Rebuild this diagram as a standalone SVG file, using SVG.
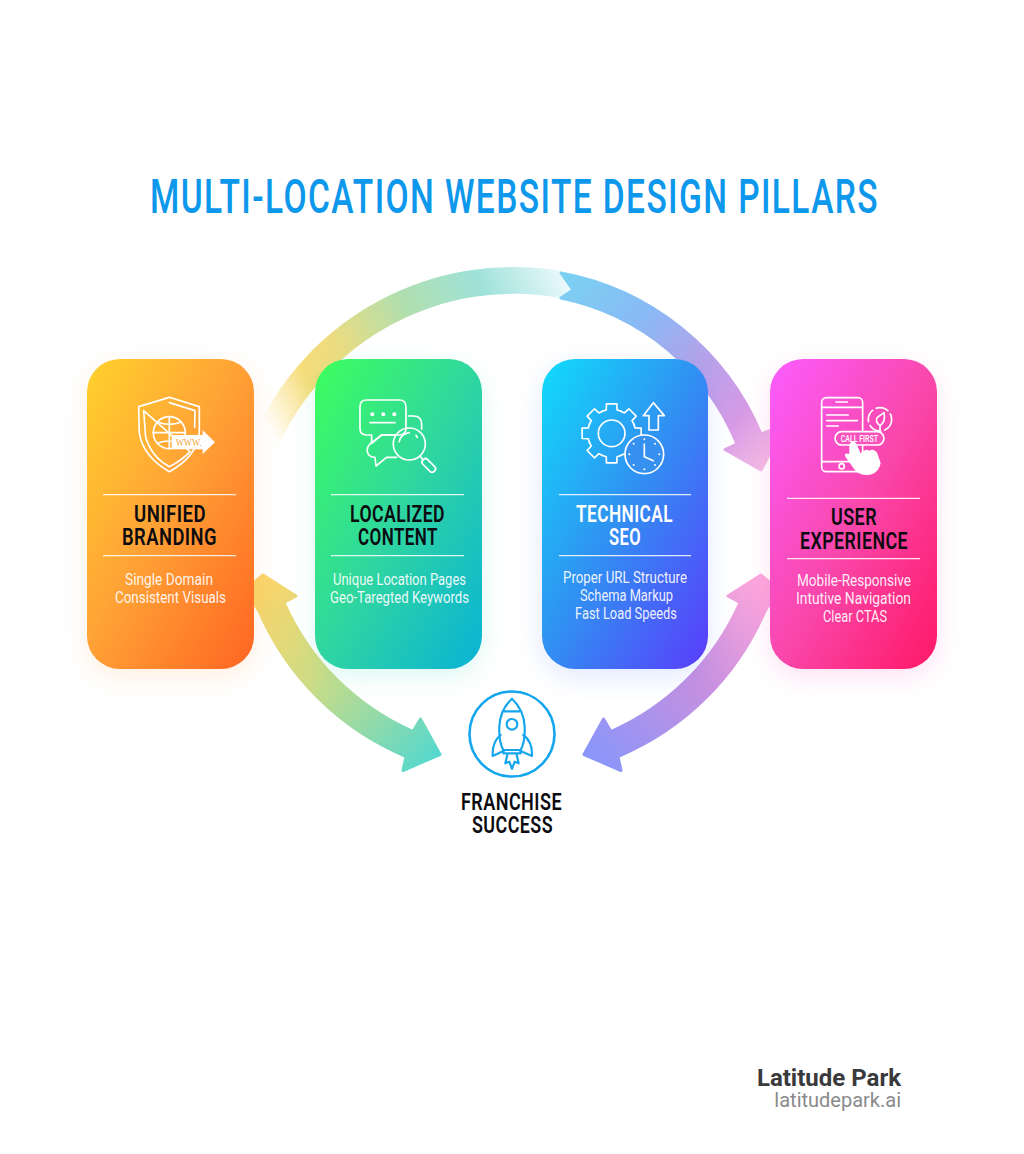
<svg xmlns="http://www.w3.org/2000/svg" width="1024" height="1154" viewBox="0 0 1024 1154">
<style>
.title{font-size:48px;font-weight:500;letter-spacing:2px;fill:#0d98ec;font-family:"Roboto","Liberation Sans",sans-serif}
.h{font-size:24px;font-weight:600;letter-spacing:.6px;fill:#0c0c10;font-family:"Roboto","Liberation Sans",sans-serif}
.hw{fill:#fff}
.s{font-size:16.500px;font-weight:400;fill:#fff;fill-opacity:.92;font-family:"Roboto","Liberation Sans",sans-serif}
.rule{stroke:#fff;stroke-opacity:.85;stroke-width:1.2}
.i{fill:none;stroke:#fff;stroke-width:5;stroke-linejoin:round;stroke-linecap:round}
.r{fill:none;stroke:#14a6ec;stroke-width:6.5;stroke-linejoin:round;stroke-linecap:round}
.glow{filter:url(#soft);opacity:.15}
</style>
<defs>
<filter id="soft" x="-30%" y="-30%" width="160%" height="160%"><feGaussianBlur stdDeviation="13"/></filter>
<linearGradient id="c1" x1="0" y1="0" x2="1" y2="1"><stop offset="0" stop-color="#ffd12c"/><stop offset=".45" stop-color="#ffa436"/><stop offset="1" stop-color="#ff6522"/></linearGradient>
<linearGradient id="c2" x1="0" y1="0" x2="1" y2="1"><stop offset="0" stop-color="#3dff5c"/><stop offset=".5" stop-color="#2fd6a0"/><stop offset="1" stop-color="#0ab2d6"/></linearGradient>
<linearGradient id="c3" x1="0" y1="0" x2="1" y2="1"><stop offset="0" stop-color="#10dcfb"/><stop offset=".45" stop-color="#2e96f2"/><stop offset="1" stop-color="#5a3cfb"/></linearGradient>
<linearGradient id="c4" x1="0" y1="0" x2="1" y2="1"><stop offset="0" stop-color="#fc5cff"/><stop offset=".5" stop-color="#f948ad"/><stop offset="1" stop-color="#ff1866"/></linearGradient>
<linearGradient id="a1" gradientUnits="userSpaceOnUse" x1="262" y1="440" x2="566" y2="285"><stop offset=".03" stop-color="#f9de7c" stop-opacity="0"/><stop offset=".2" stop-color="#f6dc7a"/><stop offset=".32" stop-color="#ecdc80"/><stop offset=".55" stop-color="#b0dfae"/><stop offset=".78" stop-color="#9fe2da"/><stop offset="1" stop-color="#e8f8fb"/></linearGradient>
<linearGradient id="a2" gradientUnits="userSpaceOnUse" x1="560" y1="285" x2="765" y2="470"><stop offset="0" stop-color="#7cd0f2"/><stop offset=".3" stop-color="#88baf5"/><stop offset=".55" stop-color="#b3a3ea"/><stop offset=".8" stop-color="#d69ae6"/><stop offset="1" stop-color="#f4bde4"/></linearGradient>
<linearGradient id="a3" gradientUnits="userSpaceOnUse" x1="262" y1="590" x2="440" y2="750"><stop offset="0" stop-color="#f8d56c"/><stop offset=".4" stop-color="#cfdc84"/><stop offset="1" stop-color="#58d8cc"/></linearGradient>
<linearGradient id="a4" gradientUnits="userSpaceOnUse" x1="762" y1="590" x2="584" y2="750"><stop offset="0" stop-color="#fba6dc"/><stop offset=".45" stop-color="#c690e0"/><stop offset="1" stop-color="#8a96fa"/></linearGradient>
<path id="tooth" d="M66.5-27.6L70.2-16.2L88.6-15.6L88.6 15.6L70.2 16.2L66.5 27.6"/>
</defs>
<rect width="1024" height="1154" fill="#fff"/>
<text class="title" x="150" y="213" textLength="729" lengthAdjust="spacingAndGlyphs">MULTI-LOCATION WEBSITE DESIGN PILLARS</text>

<g id="connectors">
<path fill="url(#a1)" d="M253.500 436A285 285 0 0 1 560 270.700L572 290L560 298A258 258 0 0 0 278 447Z"/>
<path fill="url(#a2)" stroke="url(#a2)" stroke-width="3" stroke-linejoin="round" d="M561 273L573 290L561 298A243 243 0 0 1 737 444L725 449.500L761 470L785 425L761 434A270 270 0 0 0 561 273Z"/>
<path fill="url(#a3)" stroke="url(#a3)" stroke-width="3" stroke-linejoin="round" d="M263 575L296 596L284 602.500A252 252 0 0 0 413 731.500L420.500 719L440 754.500L403 770.500L406 756.500A276 276 0 0 1 259 611L245 590Z"/>
<path fill="url(#a4)" stroke="url(#a4)" stroke-width="3" stroke-linejoin="round" d="M761 575L728 596L740 602.500A252 252 0 0 1 611 731.500L603.500 719L584 754.500L621 770.500L618 756.500A276 276 0 0 0 765 611L779 590Z"/>
</g>

<g id="unified-branding">
<rect class="glow" x="87" y="367" width="167" height="310" rx="33" fill="#ff9a30"/>
<rect x="87" y="359" width="167" height="310" rx="33" fill="url(#c1)"/>
<g transform="translate(80 350) scale(.3333)">
<path class="i" d="M268 142L358 170L358 250Q350 320 268 365Q190 320 178 250L176 170Z"/>
<path class="i" d="M268 158L345 182L344 232M330 305Q305 332 268 350Q215 322 197 262L191 182Z"/>
<circle class="i" cx="268" cy="248" r="48"/>
<path class="i" d="M268 200V296M220 248H316M232 216Q268 230 304 216M232 280Q268 266 304 280"/>
<path fill="#fff" d="M275 255H368V240L405 277L368 312V298H275Z"/>
<text x="287" y="287" font-size="30" font-weight="400" fill="#f6a43a" textLength="78" lengthAdjust="spacingAndGlyphs" style="font-family:'Liberation Serif',serif">WWW.</text>
</g>
<line class="rule" x1="103" x2="236" y1="494.700" y2="494.700"/>
<text class="h" x="134" y="522" textLength="72" lengthAdjust="spacingAndGlyphs">UNIFIED</text>
<text class="h" x="122" y="545" textLength="95" lengthAdjust="spacingAndGlyphs">BRANDING</text>
<line class="rule" x1="103" x2="236" y1="555.700" y2="555.700"/>
<text class="s" x="125" y="585" textLength="88" lengthAdjust="spacingAndGlyphs">Single Domain</text>
<text class="s" x="115" y="603" textLength="111" lengthAdjust="spacingAndGlyphs">Consistent Visuals</text>
</g>

<g id="localized-content">
<rect class="glow" x="315" y="367" width="167" height="310" rx="33" fill="#20d8b0"/>
<rect x="315" y="359" width="167" height="310" rx="33" fill="url(#c2)"/>
<g transform="translate(80 350) scale(.3333)">
<path class="i" d="M860 150H958Q978 150 978 170V235Q978 255 958 255H905L875 280V255H860Q840 255 840 235V170Q840 150 860 150Z"/>
<circle cx="877" cy="193" r="6" fill="#fff"/><circle cx="910" cy="193" r="6" fill="#fff"/><circle cx="943" cy="193" r="6" fill="#fff"/>
<path class="i" d="M870 218H945M985 198H1000Q1025 198 1025 222V238M945 255H905L872 280Q860 290 862 305Q866 322 885 322L888 348L920 322H950"/>
<circle class="i" cx="988" cy="282" r="48"/>
<path class="i" d="M958 275Q962 252 988 248M1008 256L1012 262M1020 318L1028 328"/>
<rect class="i" x="1023" y="335" width="48" height="20" rx="9" transform="rotate(45 1045 345)"/>
</g>
<line class="rule" x1="331" x2="464" y1="494.700" y2="494.700"/>
<text class="h" x="350" y="522" textLength="95" lengthAdjust="spacingAndGlyphs">LOCALIZED</text>
<text class="h" x="358" y="545" textLength="80" lengthAdjust="spacingAndGlyphs">CONTENT</text>
<line class="rule" x1="331" x2="464" y1="555.700" y2="555.700"/>
<text class="s" x="333" y="585" textLength="133" lengthAdjust="spacingAndGlyphs">Unique Location Pages</text>
<text class="s" x="330" y="603" textLength="139" lengthAdjust="spacingAndGlyphs">Geo-Taregted Keywords</text>
</g>

<g id="technical-seo">
<rect class="glow" x="542" y="367" width="166" height="310" rx="33" fill="#3a70f8"/>
<rect x="542" y="359" width="166" height="310" rx="33" fill="url(#c3)"/>
<g transform="translate(535 350) scale(.3333)">
<g class="i" transform="translate(230 250)">
<use href="#tooth"/><use href="#tooth" transform="rotate(45)"/><use href="#tooth" transform="rotate(90)"/><use href="#tooth" transform="rotate(135)"/><use href="#tooth" transform="rotate(180)"/><use href="#tooth" transform="rotate(225)"/><use href="#tooth" transform="rotate(270)"/><use href="#tooth" transform="rotate(315)"/>
<circle r="40"/>
</g>
<circle class="i" cx="328" cy="313" r="58" style="fill:#3590f0"/>
<path class="i" d="M355 158L388 197H370V240H342V197H325Z"/>
<path class="i" d="M328 282V320L355 332"/>
<g fill="#fff"><circle cx="328" cy="268" r="3"/><circle cx="328" cy="358" r="3"/><circle cx="283" cy="313" r="3"/><circle cx="373" cy="313" r="3"/><circle cx="296" cy="281" r="3"/><circle cx="360" cy="281" r="3"/><circle cx="296" cy="345" r="3"/><circle cx="360" cy="345" r="3"/></g>
</g>
<line class="rule" x1="559" x2="691" y1="494.700" y2="494.700"/>
<text class="h hw" x="576" y="522" textLength="97" lengthAdjust="spacingAndGlyphs">TECHNICAL</text>
<text class="h hw" x="609" y="545" textLength="32" lengthAdjust="spacingAndGlyphs">SEO</text>
<line class="rule" x1="559" x2="691" y1="555.700" y2="555.700"/>
<text class="s" x="563" y="583" textLength="124" lengthAdjust="spacingAndGlyphs">Proper URL Structure</text>
<text class="s" x="580" y="601" textLength="93" lengthAdjust="spacingAndGlyphs">Schema Markup</text>
<text class="s" x="575" y="619" textLength="102" lengthAdjust="spacingAndGlyphs">Fast Load Speeds</text>
</g>

<g id="user-experience">
<rect class="glow" x="770" y="367" width="167" height="310" rx="33" fill="#fa40b0"/>
<rect x="770" y="359" width="167" height="310" rx="33" fill="url(#c4)"/>
<g transform="translate(770 380) scale(.3333)">
<rect class="i" x="155" y="53" width="123" height="222" rx="14"/>
<path class="i" d="M155 82H278M155 245H245M198 66H232M170 105H235M170 122H262M170 138H205"/>
<circle class="i" cx="215" cy="259" r="8"/>
<circle cx="330" cy="118" r="35" fill="none" stroke="#fff" stroke-width="5" stroke-dasharray="42 8"/>
<path class="i" d="M342 98Q348 125 330 137Q314 125 322 112ZM330 137V150"/>
<rect class="i" x="195" y="155" width="147" height="40" rx="20" style="fill:#f952bc"/>
<text x="212" y="185" font-size="26" font-weight="500" fill="#fff" textLength="112" lengthAdjust="spacingAndGlyphs" style="font-family:'Roboto',sans-serif">CALL FIRST</text>
<path fill="#fff" d="M238 195Q246 176 258 190L272 220Q286 204 298 212Q312 204 322 220L332 250Q324 286 288 285Q262 284 250 264L226 230Q220 216 238 222Z"/>
</g>
<line class="rule" x1="787" x2="920" y1="498.300" y2="498.300"/>
<text class="h" x="831" y="525" textLength="46" lengthAdjust="spacingAndGlyphs">USER</text>
<text class="h" x="800" y="549" textLength="108" lengthAdjust="spacingAndGlyphs">EXPERIENCE</text>
<line class="rule" x1="787" x2="920" y1="558.700" y2="558.700"/>
<text class="s" x="797" y="586" textLength="114" lengthAdjust="spacingAndGlyphs">Mobile-Responsive</text>
<text class="s" x="796" y="604" textLength="115" lengthAdjust="spacingAndGlyphs">Intutive Navigation</text>
<text class="s" x="823" y="622" textLength="64" lengthAdjust="spacingAndGlyphs">Clear CTAS</text>
</g>

<g id="franchise-success">
<circle cx="512" cy="734" r="42.500" fill="#fff" stroke="#14a6ec" stroke-width="2.600"/>
<g transform="translate(380 680) scale(.3333)">
<path class="r" d="M396 56Q432 90 434 140Q436 185 422 210H370Q356 185 358 140Q360 90 396 56Z"/>
<path class="r" d="M372 94H420M370 210V220H422V210"/>
<circle class="r" cx="396" cy="133" r="16"/>
<path class="r" d="M362 165Q336 185 338 228L372 212M430 165Q458 185 456 228L420 212"/>
<path class="r" d="M382 224L376 250L388 245L396 267L404 245L416 250L410 224"/>
</g>
<text class="h" x="461" y="810" textLength="101" lengthAdjust="spacingAndGlyphs">FRANCHISE</text>
<text class="h" x="472" y="833" textLength="81" lengthAdjust="spacingAndGlyphs">SUCCESS</text>
</g>

<g id="brand">
<text x="901" y="1086" text-anchor="end" style="font-family:Roboto,sans-serif;font-size:24px;font-weight:700;fill:#3a3a3c">Latitude Park</text>
<text x="901" y="1107" text-anchor="end" style="font-family:Roboto,sans-serif;font-size:20px;fill:#8a8a8c">latitudepark.ai</text>
</g>
</svg>
